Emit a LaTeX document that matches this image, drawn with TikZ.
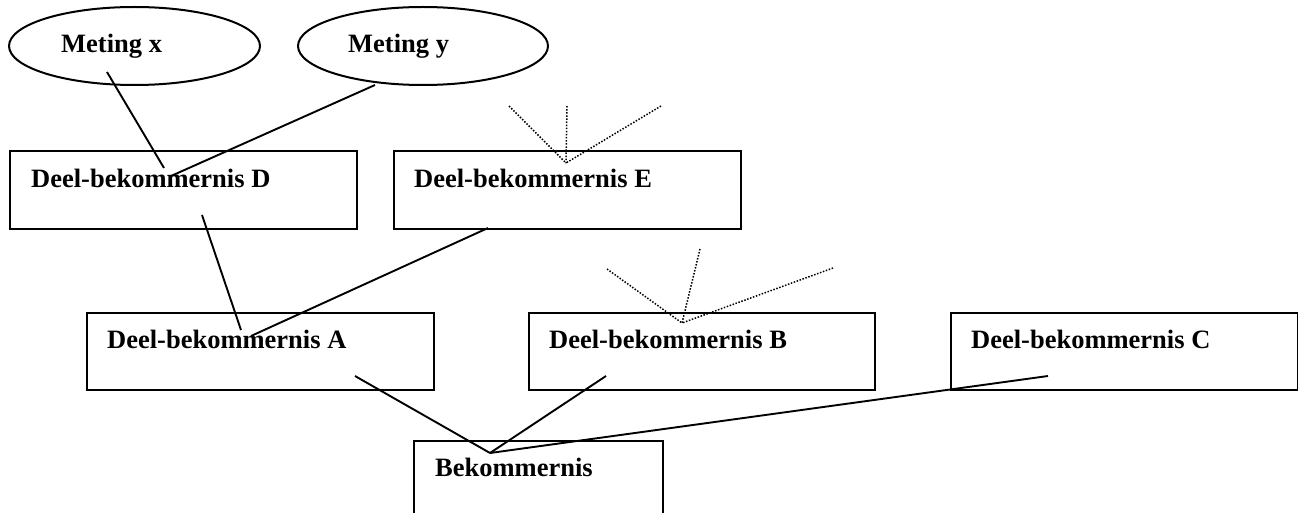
\documentclass[tikz,border=0pt]{standalone}
\usepackage{fontspec}
\setmainfont{Liberation Serif}
\usetikzlibrary{shapes.geometric}
\begin{document}
\begin{tikzpicture}[x=1pt,y=-1pt,
  box/.style={draw, line width=2pt, rectangle, inner sep=0pt, anchor=north west},
  oval/.style={draw, line width=2pt, ellipse, inner sep=0pt},
  lbl/.style={anchor=base west, inner sep=0pt, font=\fontsize{26.5}{30}\selectfont\bfseries},
  conn/.style={line width=1.9pt},
  dotline/.style={line width=1.5pt, dash pattern=on 1.5pt off 1.6pt}]
\useasboundingbox (0,0) rectangle (1298,513);
\clip (0,0) rectangle (1298,513);
% ellipses
\node[oval, minimum width=251pt, minimum height=78pt] (mx) at (134.5,46) {};
\node[oval, minimum width=250pt, minimum height=78pt] (my) at (423,46) {};
\node[lbl] (mxt) at (61,53) {Meting x};
\node[lbl] (myt) at (348,53) {Meting y};
% boxes
\node[box, minimum width=347pt, minimum height=78pt] (D) at (9,150) {};
\node[box, minimum width=347pt, minimum height=78pt] (E) at (393,150) {};
\node[box, minimum width=347pt, minimum height=77pt] (A) at (86,312) {};
\node[box, minimum width=346pt, minimum height=77pt] (B) at (528,312) {};
\node[box, minimum width=347pt, minimum height=77pt] (C) at (950,312) {};
\node[box, minimum width=249pt, minimum height=90pt] (K) at (413,440) {};
\node[lbl] (Dt) at (31,188) {Deel-bekommernis D};
\node[lbl] (Et) at (414,188) {Deel-bekommernis E};
\node[lbl] (At) at (107,348) {Deel-bekommernis A};
\node[lbl] (Bt) at (549,348) {Deel-bekommernis B};
\node[lbl] (Ct) at (971,348) {Deel-bekommernis C};
\node[lbl] (Kt) at (435,476) {Bekommernis};
% connector end points
\coordinate (mxa) at (107,72);
\coordinate (mxb) at (164,168);
\coordinate (mya) at (375,85);
\coordinate (myb) at (171,176);
\coordinate (Da) at (202,215);
\coordinate (Ab1) at (241,330);
\coordinate (Ea) at (488,228);
\coordinate (Ab2) at (251,336);
\coordinate (Aa) at (355,376);
\coordinate (Ba) at (606,376);
\coordinate (Ca) at (1048,376);
\coordinate (Kb) at (490,453);
% connectors
\draw[conn] (mxa) -- (mxb);
\draw[conn] (mya) -- (myb);
\draw[conn] (Da) -- (Ab1);
\draw[conn] (Ea) -- (Ab2);
\draw[conn] (Aa) -- (Kb);
\draw[conn] (Ba) -- (Kb);
\draw[conn] (Ca) -- (Kb);
% dotted fans
\coordinate (Ef) at (566,163);
\coordinate (Ef1) at (509,106);
\coordinate (Ef2) at (567,106);
\coordinate (Ef3) at (661,106);
\coordinate (Bf) at (682,323);
\coordinate (Bf1) at (607,269);
\coordinate (Bf2) at (700,249);
\coordinate (Bf3) at (833,268);
\draw[dotline] (Ef1) -- (Ef);
\draw[dotline] (Ef2) -- (Ef);
\draw[dotline] (Ef3) -- (Ef);
\draw[dotline] (Bf1) -- (Bf);
\draw[dotline] (Bf2) -- (Bf);
\draw[dotline] (Bf3) -- (Bf);
\end{tikzpicture}
\end{document}
